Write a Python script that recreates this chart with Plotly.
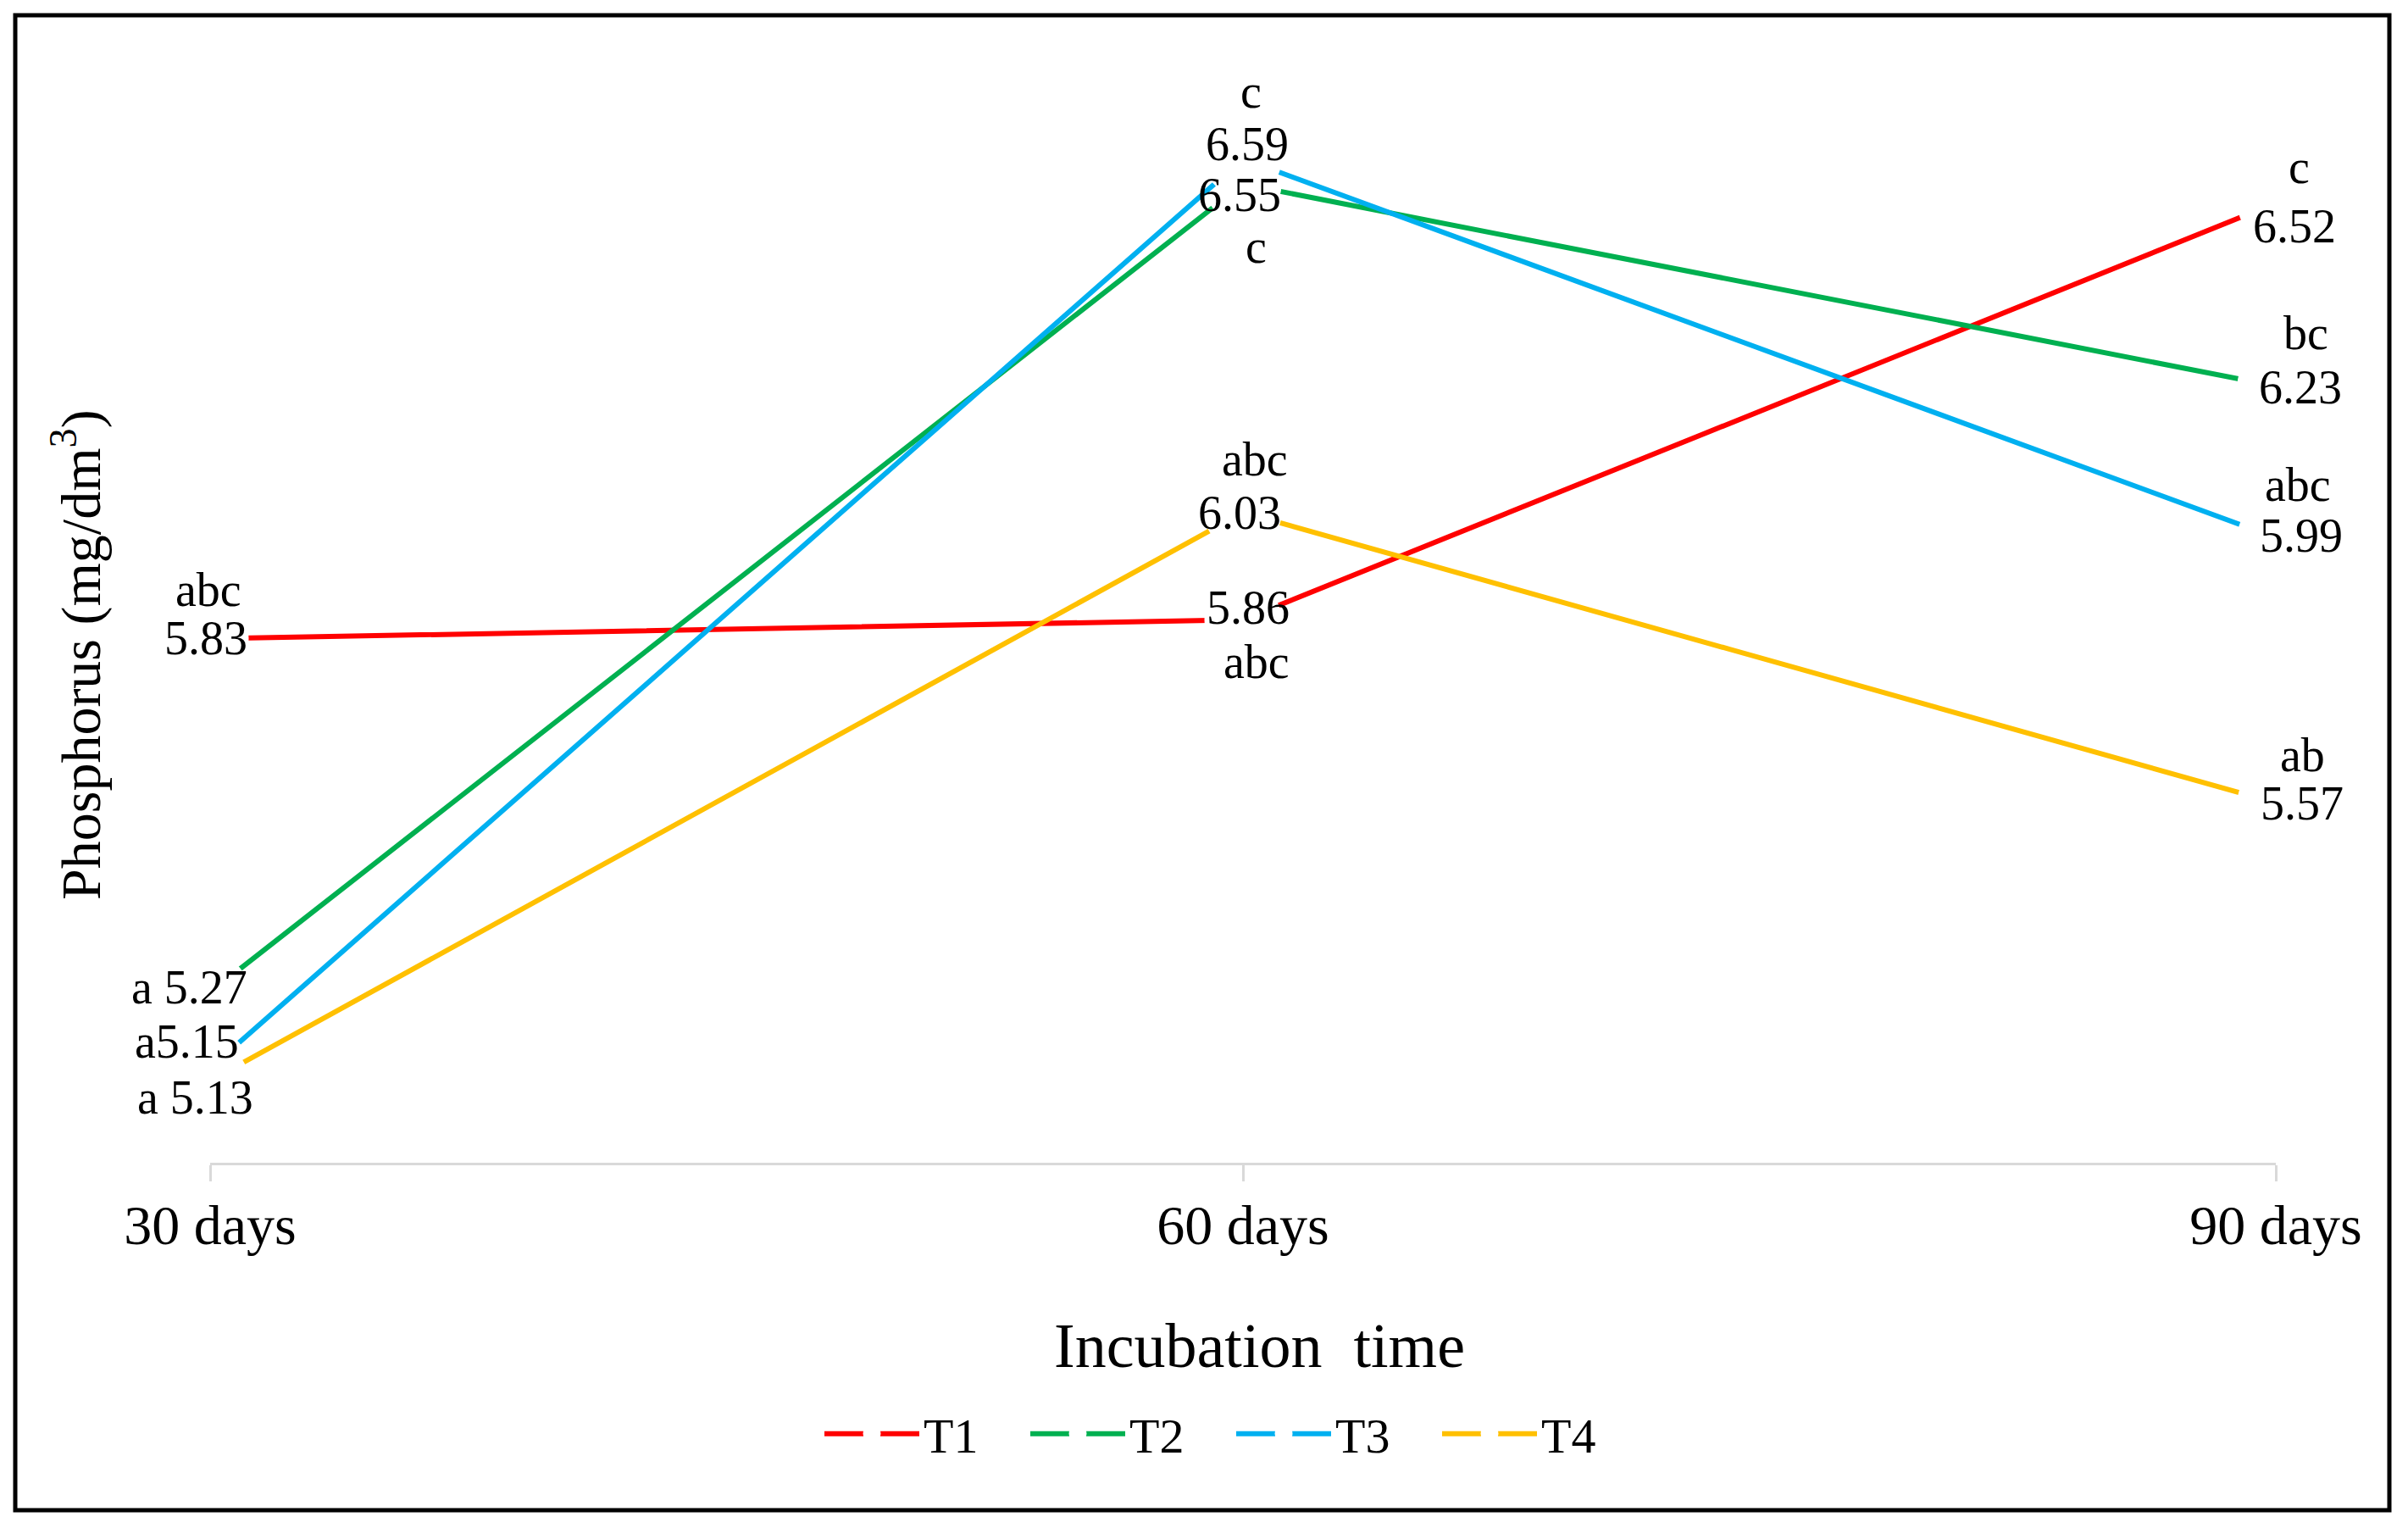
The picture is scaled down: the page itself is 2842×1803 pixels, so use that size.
import plotly.graph_objects as go

# ---------------- data ----------------
days = ["30 days", "60 days", "90 days"]
series_names = ["T1", "T2", "T3", "T4"]
t1_values = [5.83, 5.86, 6.52]
t2_values = [5.27, 6.55, 6.23]
t3_values = [5.15, 6.59, 5.99]
t4_values = [5.13, 6.03, 5.57]
t1_letters = ["abc", "abc", "c"]
t2_letters = ["a", "c", "bc"]
t3_letters = ["a", "c", "abc"]
t4_letters = ["a", "abc", "ab"]

x_title = "Incubation\u00a0 time"
y_title = "Phosphorus (mg/dm<sup>3</sup>)"

# ---------------- styles ----------------
colors = ["#FF0000", "#00B050", "#00B0F0", "#FFC000"]
FONT = "Liberation Serif"
W, H = 2842, 1803
ML, MR, MT, MB = 248, 156, 31, 431
PW, PH = W - ML - MR, H - MT - MB

# per-point label placement (pixel offsets: dx right, dy down)
# ("stack", value_offset, letter_offset) or ("inline", separator, offset)
label_style = [
    [("stack", (-5, -1), (-2, -58)), ("stack", (6, -14), (16, 50)), ("stack", (22, 27), (27, -43))],
    [("inline", " ", (-25, -6)), ("stack", (-4, 13), (15, 74)), ("stack", (29, 1), (35, -63))],
    [("inline", "", (-28, -31)), ("stack", (5, -17), (9, -79)), ("stack", (30, -2), (26, -62))],
    [("inline", " ", (-18, 20)), ("stack", (-4, 0), (14, -63)), ("stack", (31, 1), (31, -56))],
]

values = [t1_values, t2_values, t3_values, t4_values]
letters = [t1_letters, t2_letters, t3_letters, t4_letters]

fig = go.Figure()
for name, vals, col in zip(series_names, values, colors):
    fig.add_trace(go.Scatter(
        x=days, y=vals, name=name, mode="lines+markers",
        line=dict(color=col, width=6),
        marker=dict(color="white", size=86, line=dict(width=5, color="white")),
        hoverinfo="skip",
    ))

annotations = []
lab_font = dict(family=FONT, size=56, color="black")
for s, (vals, lets) in enumerate(zip(values, letters)):
    for i, (v, l) in enumerate(zip(vals, lets)):
        st = label_style[s][i]
        if st[0] == "stack":
            (vdx, vdy), (ldx, ldy) = st[1], st[2]
            annotations.append(dict(x=days[i], y=v, xref="x", yref="y", text=f"{v:.2f}",
                                    showarrow=False, xshift=vdx, yshift=-vdy, font=lab_font,
                                    xanchor="center", yanchor="middle"))
            annotations.append(dict(x=days[i], y=v, xref="x", yref="y", text=l,
                                    showarrow=False, xshift=ldx, yshift=-ldy, font=lab_font,
                                    xanchor="center", yanchor="middle"))
        else:
            sep, (dx, dy) = st[1], st[2]
            annotations.append(dict(x=days[i], y=v, xref="x", yref="y", text=f"{l}{sep}{v:.2f}",
                                    showarrow=False, xshift=dx, yshift=-dy, font=lab_font,
                                    xanchor="center", yanchor="middle"))

# axis titles
annotations.append(dict(x=(91 - ML) / PW, y=(MT + PH - 773) / PH, xref="paper", yref="paper",
                        text=y_title, textangle=-90, showarrow=False,
                        font=dict(family=FONT, size=66, color="black"),
                        xanchor="center", yanchor="middle"))
annotations.append(dict(x=(1486 - ML) / PW, y=(MT + PH - 1588) / PH, xref="paper", yref="paper",
                        text=x_title, showarrow=False,
                        font=dict(family=FONT, size=74, color="black"),
                        xanchor="center", yanchor="middle"))

fig.update_layout(
    width=W, height=H,
    margin=dict(l=ML, r=MR, t=MT, b=MB, pad=0),
    paper_bgcolor="white", plot_bgcolor="white",
    font=dict(family=FONT, color="black"),
    xaxis=dict(
        type="category", categoryorder="array", categoryarray=days,
        range=[0, 2], showgrid=False, zeroline=False,
        showline=True, linecolor="#D9D9D9", linewidth=3,
        ticks="outside", ticklen=19, tickwidth=3, tickcolor="#D9D9D9",
        tickfont=dict(family=FONT, size=66, color="black"),
        ticklabelstandoff=-5,
    ),
    yaxis=dict(visible=False, range=[5.0, 6.8], fixedrange=True),
    showlegend=True,
    legend=dict(
        orientation="h", x=(968 - ML) / PW, xanchor="left",
        y=(MT + PH - 1692) / PH, yanchor="middle",
        font=dict(family=FONT, size=58, color="black"),
        itemwidth=112, entrywidth=116, entrywidthmode="pixels",
        bgcolor="rgba(0,0,0,0)", traceorder="normal",
    ),
    annotations=annotations,
    shapes=[dict(type="rect", xref="paper", yref="paper",
                 x0=(18 - ML) / PW, x1=(2820 - ML) / PW,
                 y0=(MT + PH - 1782) / PH, y1=(MT + PH - 18) / PH,
                 line=dict(color="black", width=5), fillcolor="rgba(0,0,0,0)", layer="above")],
)

fig.write_html("out.html", config={"displayModeBar": False},
               post_script="document.body.style.margin='0';document.body.style.overflow='hidden';")
